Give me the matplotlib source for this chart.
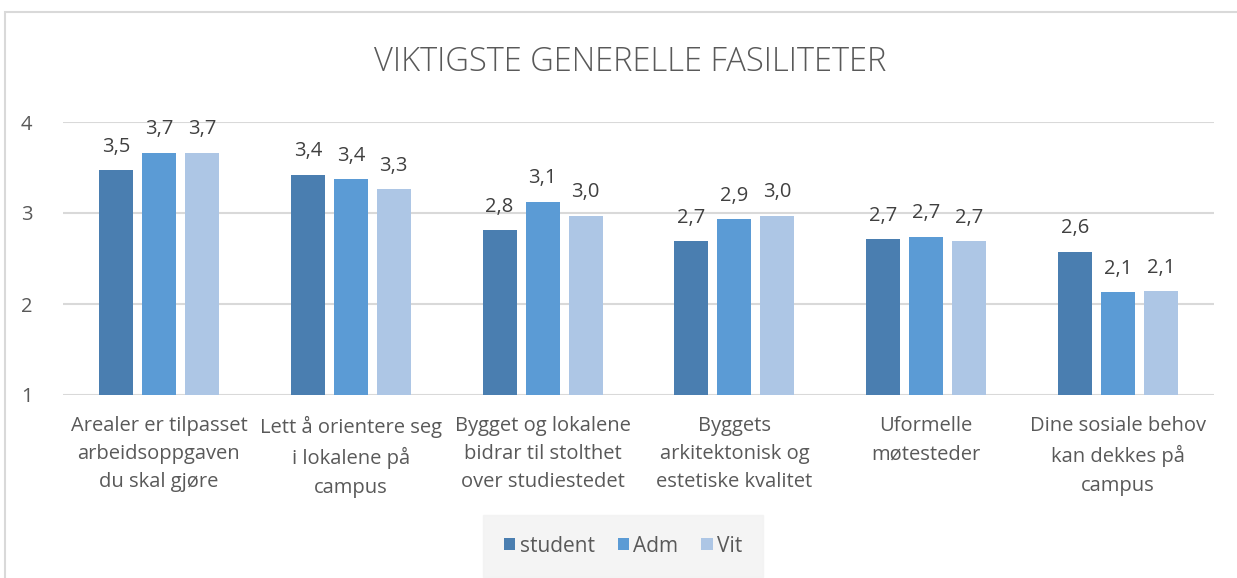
import matplotlib.pyplot as plt
from matplotlib.patches import Rectangle
import numpy as np

categories = [
    "Arealer er tilpasset\narbeidsoppgaven\ndu skal gjøre",
    "Lett å orientere seg\ni lokalene på\ncampus",
    "Bygget og lokalene\nbidrar til stolthet\nover studiestedet",
    "Byggets\narkitektonisk og\nestetiske kvalitet",
    "Uformelle\nmøtesteder",
    "Dine sosiale behov\nkan dekkes på\ncampus",
]
student = [3.47, 3.42, 2.81, 2.69, 2.71, 2.57]
adm = [3.66, 3.37, 3.12, 2.93, 2.74, 2.13]
vit = [3.66, 3.26, 2.97, 2.97, 2.69, 2.14]
series_names = ["student", "Adm", "Vit"]
colors = ["#4A7EB0", "#5B9BD5", "#ADC6E5"]

plt.rcParams["font.family"] = ["Open Sans", "DejaVu Sans"]

fig = plt.figure(figsize=(12.37, 5.78), dpi=100)
fig.patches.append(Rectangle((5 / 1237, -0.05), 1.1, 1 - 12 / 578 + 0.05,
                             transform=fig.transFigure, fill=False,
                             edgecolor="#D9D9D9", linewidth=1.5))

ax = fig.add_axes([63 / 1237, 1 - 395 / 578, 1151 / 1237, 273 / 578])
x = np.arange(len(categories))
width = 0.177
step = 0.224

for i, (vals, name, c) in enumerate(zip([student, adm, vit], series_names, colors)):
    pos = x + (i - 1) * step
    ax.bar(pos, np.array(vals) - 1, width, bottom=1, color=c, label=name, zorder=3)
    for p, v in zip(pos, vals):
        ax.text(p, v + 0.15, f"{v:.1f}".replace(".", ","), ha="center", va="bottom",
                fontsize=14.5, color="#404040")

ax.set_ylim(1, 4)
ax.set_xlim(-0.5, len(categories) - 0.5)
ax.set_yticks([1, 2, 3, 4])
ax.yaxis.grid(True, color="#D9D9D9", linewidth=1.5, zorder=0)
ax.set_axisbelow(True)
for s in ax.spines.values():
    s.set_visible(False)
ax.tick_params(axis="both", length=0, labelsize=14.5, labelcolor="#595959")
ax.tick_params(axis="y", pad=22)
ax.tick_params(axis="x", pad=15)
ax.set_xticks(x)
ax.set_xticklabels(categories, fontsize=14.5, linespacing=1.55)

fig.text(630 / 1237, 1 - 62 / 578, "VIKTIGSTE GENERELLE FASILITETER", ha="center",
         va="center", fontsize=23.5, color="#595959", fontweight="light")

leg = fig.legend(loc="center", bbox_to_anchor=(623 / 1237, 1 - 546 / 578), ncol=3,
                 frameon=True, fontsize=15, handlelength=0.55, handleheight=0.55,
                 handletextpad=0.2, columnspacing=1.1, borderpad=1.0,
                 labelcolor="#595959")
leg.get_frame().set_facecolor("#F2F2F2")
leg.get_frame().set_edgecolor("#F2F2F2")
leg.get_frame().set_boxstyle("square", pad=0)

fig.savefig("out.png", dpi=100)
